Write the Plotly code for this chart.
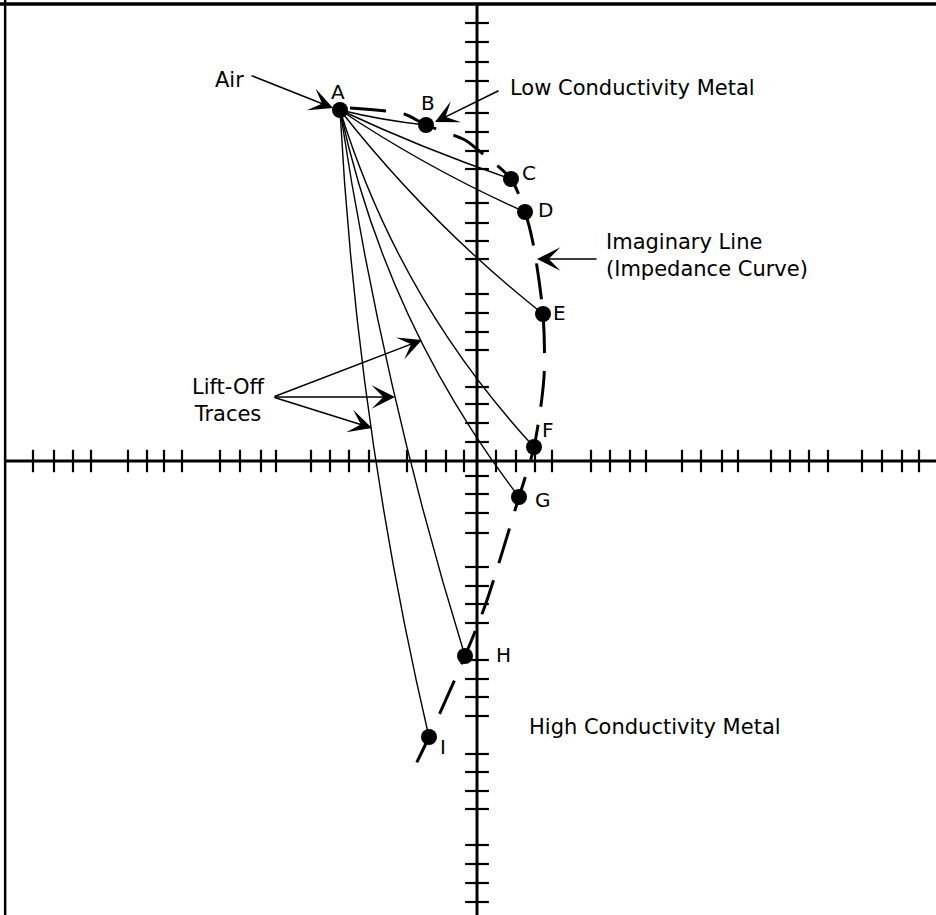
import plotly.graph_objects as go

# ---------------- data (impedance-plane units, origin at axis crossing) ----------------
point_names = ["A", "B", "C", "D", "E", "F", "G", "H", "I"]
point_x = [-137, -51, 34, 48, 66, 57, 42, -12, -48]
point_y = [351, 336, 282, 249, 147, 14, -36, -195, -276]

# bow of each lift-off trace (A -> point), perpendicular control offset
trace_bow = [0, 3, 5, 9, 17, 44, 48, 21, 28]

# impedance curve (dashed "imaginary line")
curve_x = [-127, -73, -51, -12, 1, 34, 48, 56, 66, 67, 57, 42, 9, -12, -48, -64]
curve_y = [353, 347, 336, 321, 311, 282, 249, 218, 147, 84, 14, -36, -142, -195, -276, -309]

# axis tick positions
xtick_vals = [-444, -423, -404, -386, -349, -330, -313, -295, -257, -237, -216, -201,
              -166, -147, -128, -108, -70, -51, -31, -13,
              19, 39, 58, 75, 114, 133, 153, 169, 205, 224, 245, 261, 294, 313, 332, 351,
              385, 405, 425, 442]
ytick_vals = [438, 419, 399, 380, 348, 329, 310, 292, 258, 238, 220, 202, 167, 148, 129, 111,
              74, 57, 38, 19,
              -15, -33, -52, -72, -106, -125, -143, -162, -199, -218, -236, -255,
              -293, -311, -330, -348, -384, -403, -422, -441]

XMIN, XMAX = -477, 459
YMIN, YMAX = -454, 461

FONT = "DejaVu Sans"
BLACK = "#000000"

fig = go.Figure()
shapes = []

# frame (top and left)
shapes.append(dict(type="line", xref="paper", yref="paper", x0=0, x1=1, y0=0.9956, y1=0.9956,
                   line=dict(color=BLACK, width=3.5)))
shapes.append(dict(type="line", xref="paper", yref="paper", x0=0.0055, x1=0.0055, y0=0, y1=1,
                   line=dict(color=BLACK, width=2.5)))
# axes
shapes.append(dict(type="line", xref="x", yref="y", x0=0, x1=0, y0=YMIN, y1=457,
                   line=dict(color=BLACK, width=3)))
shapes.append(dict(type="line", xref="x", yref="y", x0=-472, x1=XMAX, y0=0, y1=0,
                   line=dict(color=BLACK, width=3)))

# lift-off traces as quadratic bezier paths from A
ax0, ay0 = point_x[0], point_y[0]
for px, py, h in zip(point_x[1:], point_y[1:], trace_bow[1:]):
    dx, dy = px - ax0, py - ay0
    L = (dx * dx + dy * dy) ** 0.5
    nx, ny = dy / L, -dx / L
    cx = (ax0 + px) / 2 + h * nx
    cy = (ay0 + py) / 2 + h * ny
    shapes.append(dict(type="path", xref="x", yref="y",
                       path=f"M {ax0},{ay0} Q {cx:.2f},{cy:.2f} {px},{py}",
                       line=dict(color=BLACK, width=1.4)))

# ticks
fig.add_trace(go.Scatter(x=xtick_vals, y=[0] * len(xtick_vals), mode="markers",
                         marker=dict(symbol="line-ns", size=16, color=BLACK,
                                     line=dict(color=BLACK, width=2.2)),
                         hoverinfo="skip", showlegend=False))
fig.add_trace(go.Scatter(x=[0] * len(ytick_vals), y=ytick_vals, mode="markers",
                         marker=dict(symbol="line-ew", size=17, color=BLACK,
                                     line=dict(color=BLACK, width=2.2)),
                         hoverinfo="skip", showlegend=False))

# impedance curve
fig.add_trace(go.Scatter(x=curve_x, y=curve_y, mode="lines",
                         line=dict(color=BLACK, width=3, dash="36px,18px", shape="spline",
                                   smoothing=0.8),
                         hoverinfo="skip", showlegend=False))

# points
fig.add_trace(go.Scatter(x=point_x, y=point_y, mode="markers",
                         marker=dict(size=16, color=BLACK),
                         hoverinfo="skip", showlegend=False))

annotations = []
label_dx = [-2, 2, 18, 20, 16, 14, 24, 38, 14]
label_dy = [18, 22, 6, 2, 1, 17, -3, 1, -10]
for n, x, y, ddx, ddy in zip(point_names, point_x, point_y, label_dx, label_dy):
    annotations.append(dict(x=x + ddx, y=y + ddy, text=n, showarrow=False,
                            font=dict(family=FONT, size=20, color=BLACK),
                            xanchor="center", yanchor="middle"))

text_font = dict(family=FONT, size=21, color=BLACK)
annotations += [
    dict(x=-231, y=381, text="Air", showarrow=False, font=text_font,
         xanchor="right", yanchor="middle"),
    dict(x=31, y=373, text="Low Conductivity Metal", showarrow=False, font=text_font,
         xanchor="left", yanchor="middle"),
    dict(x=127, y=206, text="Imaginary Line<br>(Impedance Curve)", showarrow=False,
         font=text_font, xanchor="left", yanchor="middle", align="left"),
    dict(x=-249, y=61, text="Lift-Off<br>Traces", showarrow=False, font=text_font,
         xanchor="center", yanchor="middle", align="center"),
    dict(x=50, y=-266, text="High Conductivity Metal", showarrow=False, font=text_font,
         xanchor="left", yanchor="middle"),
]

arrows = [
    ((-227, 386), (-144, 353)),
    ((23, 371), (-42, 339)),
    ((121, 202), (60, 202)),
    ((-204, 64), (-55, 121)),
    ((-204, 64), (-82, 64)),
    ((-204, 64), (-105, 33)),
]
for (tx, ty), (hx, hy) in arrows:
    annotations.append(dict(x=hx, y=hy, ax=tx, ay=ty, axref="x", ayref="y", xref="x", yref="y",
                            text="", showarrow=True, arrowhead=3, arrowsize=2.6,
                            arrowwidth=1.5, arrowcolor=BLACK, standoff=0))

fig.update_layout(
    width=936, height=915,
    margin=dict(l=0, r=0, t=0, b=0),
    paper_bgcolor="white", plot_bgcolor="white",
    xaxis=dict(range=[XMIN, XMAX], visible=False, fixedrange=True),
    yaxis=dict(range=[YMIN, YMAX], visible=False, fixedrange=True),
    shapes=shapes, annotations=annotations,
    showlegend=False,
)

fig.write_html("out.html", config={"displayModeBar": False},
               post_script="document.body.style.margin='0';document.body.style.overflow='hidden';")
